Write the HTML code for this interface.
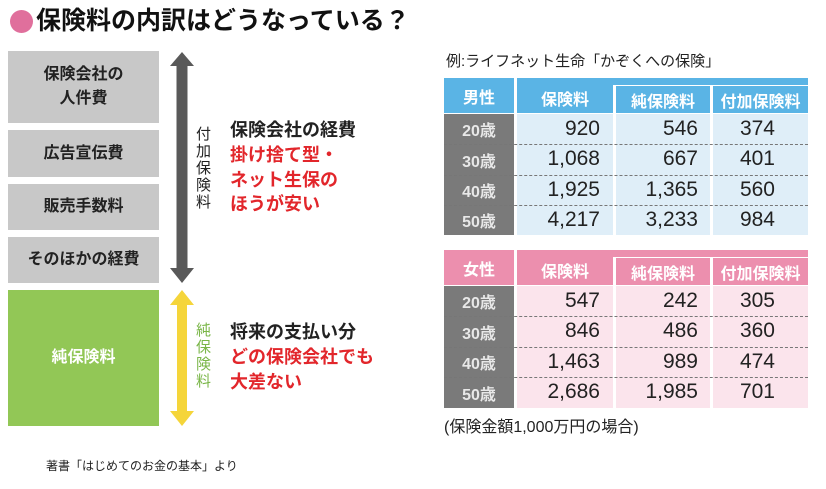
<!DOCTYPE html>
<html><head><meta charset="utf-8"><style>
body{margin:0;width:826px;height:489px;background:#fff;position:relative;overflow:hidden;font-family:"Liberation Sans","Noto Sans CJK JP",sans-serif;color:#222}
.a{position:absolute}
.box{position:absolute;left:8px;width:151px;background:#c8c8c8;display:flex;align-items:center;justify-content:center;text-align:center;font-size:16px;font-weight:bold;line-height:24px;color:#222}
.c{position:absolute;display:flex;align-items:center;justify-content:center;font-weight:bold;font-size:16px;color:#fff}
.g{color:#e8e8e8}
.n{position:absolute;font-size:21px;color:#222;text-align:right;line-height:30.3px}
.d{position:absolute;left:517px;width:291px;border-top:1px dashed #777}
</style></head><body>
<div class="a" style="left:10px;top:10px;width:23px;height:23px;border-radius:50%;background:#e06f9c"></div>
<div class="a" style="left:36px;top:3px;font-size:25px;font-weight:bold;color:#111;white-space:nowrap;line-height:36px">保険料の内訳はどうなっている？</div>

<div class="box" style="top:51px;height:72px">保険会社の<br>人件費</div>
<div class="box" style="top:130px;height:47px">広告宣伝費</div>
<div class="box" style="top:184px;height:46px">販売手数料</div>
<div class="box" style="top:237px;height:46px">そのほかの経費</div>
<div class="box" style="top:290px;height:136px;background:#92c756;color:#fff">純保険料</div>

<svg class="a" style="left:166px;top:50px" width="32" height="380">
<polygon points="16,2 28,16 21.5,16 21.5,218 28,218 16,233 4,218 10.5,218 10.5,16 4,16" fill="#595959"/>
<polygon points="16,240 28,255 21,255 21,361 28,361 16,376 4,361 11,361 11,255 4,255" fill="#f5d53a"/>
</svg>
<div class="a" style="left:196px;top:126px;width:18px;font-size:15px;line-height:17px;color:#222">付<br>加<br>保<br>険<br>料</div>
<div class="a" style="left:196px;top:322px;width:18px;font-size:15px;line-height:17px;color:#7ab648">純<br>保<br>険<br>料</div>

<div class="a" style="left:230px;top:118px;font-size:18px;font-weight:bold;line-height:24px">保険会社の経費</div>
<div class="a" style="left:230px;top:143px;font-size:18px;font-weight:bold;line-height:24.5px;color:#e2262b">掛け捨て型・<br>ネット生保の<br>ほうが安い</div>
<div class="a" style="left:230px;top:320px;font-size:18px;font-weight:bold;line-height:24px">将来の支払い分</div>
<div class="a" style="left:230px;top:345px;font-size:18px;font-weight:bold;line-height:24.5px;color:#e2262b">どの保険会社でも<br>大差ない</div>

<div class="a" style="left:446px;top:50px;font-size:15px;white-space:nowrap">例:ライフネット生命「かぞくへの保険」</div>

<div class="a" style="left:517px;top:114px;width:291px;height:121px;background:#dfeef8"></div>
<div class="a" style="left:613px;top:114px;width:3px;height:121px;background:#fff"></div>
<div class="a" style="left:710px;top:114px;width:3px;height:121px;background:#fff"></div>
<div class="c" style="left:444px;top:78px;width:70px;height:35px;background:#5ab4e5">男性</div>
<div class="c" style="left:517px;top:78px;width:96px;height:35px;background:#5ab4e5;align-items:flex-start;padding-top:8px;box-sizing:border-box">保険料</div>
<div class="a" style="left:613px;top:78px;width:195px;height:7px;background:#5ab4e5"></div>
<div class="c" style="left:616px;top:86px;width:94px;height:27px;background:#5ab4e5">純保険料</div>
<div class="c" style="left:713px;top:86px;width:95px;height:27px;background:#5ab4e5">付加保険料</div>
<div class="a" style="left:444px;top:114px;width:70px;height:121px;background:#7a7a7a"></div>
<div class="d" style="top:144px;left:444px;width:364px"></div>
<div class="d" style="top:175px;left:444px;width:364px"></div>
<div class="d" style="top:205px;left:444px;width:364px"></div>
<div class="c g" style="left:444px;top:114px;width:70px;height:30px">20歳</div>
<div class="c g" style="left:444px;top:144px;width:70px;height:31px">30歳</div>
<div class="c g" style="left:444px;top:175px;width:70px;height:30px">40歳</div>
<div class="c g" style="left:444px;top:205px;width:70px;height:30px">50歳</div>
<div class="n" style="left:517px;top:114px;width:83px">920<br>1,068<br>1,925<br>4,217</div>
<div class="n" style="left:616px;top:114px;width:82px">546<br>667<br>1,365<br>3,233</div>
<div class="n" style="left:713px;top:114px;width:62px">374<br>401<br>560<br>984</div>

<div class="a" style="left:517px;top:286px;width:291px;height:122px;background:#fbe4ec"></div>
<div class="a" style="left:613px;top:286px;width:3px;height:122px;background:#fff"></div>
<div class="a" style="left:710px;top:286px;width:3px;height:122px;background:#fff"></div>
<div class="c" style="left:444px;top:250px;width:70px;height:35px;background:#ec8fae">女性</div>
<div class="c" style="left:517px;top:250px;width:96px;height:35px;background:#ec8fae;align-items:flex-start;padding-top:8px;box-sizing:border-box">保険料</div>
<div class="a" style="left:613px;top:250px;width:195px;height:7px;background:#ec8fae"></div>
<div class="c" style="left:616px;top:258px;width:94px;height:27px;background:#ec8fae">純保険料</div>
<div class="c" style="left:713px;top:258px;width:95px;height:27px;background:#ec8fae">付加保険料</div>
<div class="a" style="left:444px;top:286px;width:70px;height:122px;background:#7a7a7a"></div>
<div class="d" style="top:316px;left:444px;width:364px"></div>
<div class="d" style="top:347px;left:444px;width:364px"></div>
<div class="d" style="top:377px;left:444px;width:364px"></div>
<div class="c g" style="left:444px;top:286px;width:70px;height:30px">20歳</div>
<div class="c g" style="left:444px;top:316px;width:70px;height:31px">30歳</div>
<div class="c g" style="left:444px;top:347px;width:70px;height:30px">40歳</div>
<div class="c g" style="left:444px;top:377px;width:70px;height:31px">50歳</div>
<div class="n" style="left:517px;top:286px;width:83px">547<br>846<br>1,463<br>2,686</div>
<div class="n" style="left:616px;top:286px;width:82px">242<br>486<br>989<br>1,985</div>
<div class="n" style="left:713px;top:286px;width:62px">305<br>360<br>474<br>701</div>

<div class="a" style="left:444px;top:413px;font-size:16px;white-space:nowrap">(保険金額1,000万円の場合)</div>
<div class="a" style="left:46px;top:457px;font-size:12px;white-space:nowrap">著書「はじめてのお金の基本」より</div>
</body></html>
